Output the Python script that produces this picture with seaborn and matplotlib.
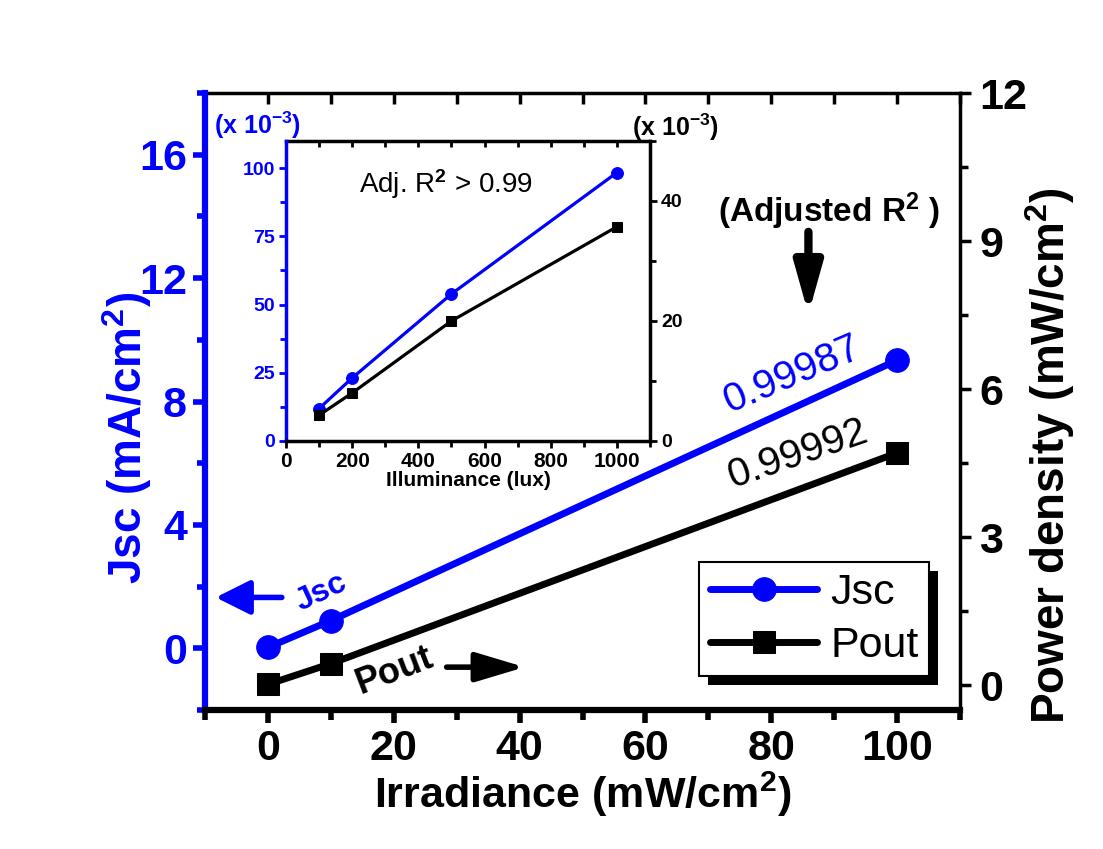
import matplotlib
matplotlib.use("Agg")
import matplotlib.pyplot as plt
import seaborn as sns
import pandas as pd
from matplotlib.ticker import MultipleLocator
from matplotlib.patches import Rectangle
from matplotlib.transforms import IdentityTransform

# ---------------- data ----------------
irradiance = [0, 10, 100]                 # mW/cm2
jsc_main = [0.03, 0.90, 9.34]             # mA/cm2
pout_main = [0.02, 0.44, 4.71]            # mW/cm2

illuminance = [100, 200, 500, 1000]       # lux
jsc_inset = [11.9, 23.1, 53.9, 98.4]      # x 1e-3 mA/cm2
pout_inset = [4.3, 8.0, 20.0, 35.7]       # x 1e-3 mW/cm2

r2_jsc = "0.99987"
r2_pout = "0.99992"

x_ticks = [0, 20, 40, 60, 80, 100]
jsc_ticks = [0, 4, 8, 12, 16]
pout_ticks = [0, 3, 6, 9, 12]
inset_x_ticks = [0, 200, 400, 600, 800, 1000]
inset_jsc_ticks = [0, 25, 50, 75, 100]
inset_pout_ticks = [0, 20, 40]

# ---------------- style ----------------
sns.set_style("ticks")
plt.rcParams['font.family'] = ['Liberation Sans', 'DejaVu Sans']
plt.rcParams['font.weight'] = 'bold'
plt.rcParams['text.color'] = 'black'
plt.rcParams['mathtext.fontset'] = 'custom'
plt.rcParams['mathtext.rm'] = 'Liberation Sans'
plt.rcParams['mathtext.bf'] = 'Liberation Sans:bold'
plt.rcParams['mathtext.it'] = 'Liberation Sans:italic'

BLUE = '#0000FF'
BLACK = '#000000'

fig = plt.figure(figsize=(11.03, 8.49), dpi=100)
fig.patch.set_facecolor('white')

# ---------------- main axes ----------------
ax = fig.add_axes([0.1859, 0.1637, 0.6845, 0.7267])
ax.set_facecolor('white')
ax2 = ax.twinx()

df_main = pd.DataFrame({'irr': irradiance, 'jsc': jsc_main, 'pout': pout_main})
sns.lineplot(data=df_main, x='irr', y='jsc', ax=ax, color=BLUE, lw=5,
             marker='o', ms=17, mec=BLUE, mfc=BLUE, errorbar=None, legend=False)
sns.lineplot(data=df_main, x='irr', y='pout', ax=ax2, color=BLACK, lw=5,
             marker='s', ms=16, mec=BLACK, mfc=BLACK, errorbar=None, legend=False)

ax.set_xlim(-10, 110)
ax.set_ylim(-2, 18)
ax2.set_ylim(-0.5, 12)
ax.set_xticks(x_ticks)
ax.xaxis.set_minor_locator(MultipleLocator(10))
ax.set_yticks(jsc_ticks)
ax.yaxis.set_minor_locator(MultipleLocator(2))
ax2.set_yticks(pout_ticks)
ax2.yaxis.set_minor_locator(MultipleLocator(1.5))
ax.set_xlabel('')
ax.set_ylabel('')
ax2.set_ylabel('')

for s in ['top', 'right']:
    ax.spines[s].set_visible(False)
for s in ['left', 'top', 'bottom']:
    ax2.spines[s].set_visible(False)
ax.spines['left'].set_color(BLUE)
ax.spines['left'].set_linewidth(4.5)
ax.spines['bottom'].set_color(BLACK)
ax.spines['bottom'].set_linewidth(4.5)
ax2.spines['right'].set_color(BLACK)
ax2.spines['right'].set_linewidth(2.5)

ax.tick_params(axis='x', which='major', direction='out', length=9, width=4,
               colors=BLACK, labelsize=31, pad=5)
ax.tick_params(axis='x', which='minor', direction='out', length=7, width=4, colors=BLACK)
ax.tick_params(axis='y', which='major', direction='out', length=9, width=4,
               colors=BLUE, labelsize=31, pad=4)
ax.tick_params(axis='y', which='minor', direction='out', length=6, width=4, colors=BLUE)
ax2.tick_params(axis='y', which='major', direction='out', length=8, width=2.5,
                colors=BLACK, labelsize=31, pad=6)
ax2.tick_params(axis='y', which='minor', direction='out', length=6, width=2.5, colors=BLACK)

# top spine with inward ticks
sec = ax.secondary_xaxis('top')
sec.set_xticks(x_ticks)
sec.xaxis.set_minor_locator(MultipleLocator(10))
sec.tick_params(axis='x', which='both', direction='in', length=8, width=2.5,
                labeltop=False, colors=BLACK)
sec.spines['top'].set_linewidth(2.5)
sec.spines['top'].set_color(BLACK)

# axis labels
fig.text(583 / 1103, 1 - 794 / 849, r'Irradiance (mW/cm$^{\mathbf{2}}$)', fontsize=31,
         fontweight='bold', ha='center', va='center', color=BLACK)
fig.text(127 / 1103, 1 - 438 / 849, r'Jsc (mA/cm$^{\mathbf{2}}$)', fontsize=33,
         fontweight='bold', ha='center', va='center', rotation=90, color=BLUE)
fig.text(1050 / 1103, 1 - 456 / 849, r'Power density (mW/cm$^{\mathbf{2}}$)', fontsize=33,
         fontweight='bold', ha='center', va='center', rotation=90, color=BLACK)

# annotations
ax.text(83.3, 8.89, r2_jsc, fontsize=29, fontweight='normal', color=BLUE,
        rotation=23, ha='center', va='center', rotation_mode='anchor')
ax.text(84.1, 6.30, r2_pout, fontsize=29, fontweight='normal', color=BLACK,
        rotation=19, ha='center', va='center', rotation_mode='anchor')
ax.text(89.2, 14.16, r'(Adjusted R$^{\mathbf{2}}$ )', fontsize=24, fontweight='bold',
        color=BLACK, ha='center', va='center')
ax.annotate('', xy=(85.9, 10.83), xytext=(85.9, 13.5),
            arrowprops=dict(arrowstyle='-|>,head_length=1.0,head_width=0.28', lw=6,
                            color=BLACK, mutation_scale=30, shrinkA=0, shrinkB=0))
ax.annotate('', xy=(-8.3, 1.65), xytext=(2.2, 1.65),
            arrowprops=dict(arrowstyle='-|>,head_length=0.7,head_width=0.35', lw=4,
                            color=BLUE, mutation_scale=30, shrinkA=0, shrinkB=0))
ax.text(8.45, 1.8, 'Jsc', fontsize=23, fontweight='bold', color=BLUE,
        rotation=25, ha='center', va='center', rotation_mode='anchor')
ax.annotate('', xy=(40.8, -0.61), xytext=(28.4, -0.61),
            arrowprops=dict(arrowstyle='-|>,head_length=1.0,head_width=0.3', lw=4,
                            color=BLACK, mutation_scale=30, shrinkA=0, shrinkB=0))
ax.text(20.2, -0.74, 'Pout', fontsize=26, fontweight='bold', color=BLACK,
        rotation=21, ha='center', va='center', rotation_mode='anchor')

# legend with hard black shadow
h1 = ax.get_lines()[0]
h2 = ax2.get_lines()[0]
leg = fig.legend([h1, h2], ['Jsc', 'Pout'], loc='upper left',
                 bbox_to_anchor=(699 / 1103, 1 - 562 / 849), borderaxespad=0,
                 prop={'size': 31, 'weight': 'normal'}, frameon=True, fancybox=False,
                 framealpha=1, edgecolor=BLACK, handlelength=2.5, handletextpad=0.3,
                 labelspacing=0.3, borderpad=0.25, markerscale=1.0, labelcolor=BLACK)
leg.get_frame().set_linewidth(1.5)
leg.set_zorder(20)

# ---------------- inset ----------------
ins = fig.add_axes([0.2593, 0.4806, 0.3300, 0.3534])
ins.set_zorder(10)
ins.set_facecolor('white')
ins2 = ins.twinx()
ins2.set_zorder(11)

df_ins = pd.DataFrame({'lux': illuminance, 'jsc': jsc_inset, 'pout': pout_inset})
sns.lineplot(data=df_ins, x='lux', y='jsc', ax=ins, color=BLUE, lw=2.3,
             marker='o', ms=8.5, mec=BLUE, mfc=BLUE, errorbar=None, legend=False)
sns.lineplot(data=df_ins, x='lux', y='pout', ax=ins2, color=BLACK, lw=2.3,
             marker='s', ms=7.5, mec=BLACK, mfc=BLACK, errorbar=None, legend=False)

ins.set_xlim(0, 1100)
ins.set_ylim(0, 110)
ins2.set_ylim(0, 50)
ins.set_xticks(inset_x_ticks)
ins.xaxis.set_minor_locator(MultipleLocator(100))
ins.set_yticks(inset_jsc_ticks)
ins.yaxis.set_minor_locator(MultipleLocator(12.5))
ins2.set_yticks(inset_pout_ticks)
ins2.yaxis.set_minor_locator(MultipleLocator(10))
ins.set_xlabel('')
ins.set_ylabel('')
ins2.set_ylabel('')

for s in ['top', 'right']:
    ins.spines[s].set_visible(False)
for s in ['left', 'top', 'bottom']:
    ins2.spines[s].set_visible(False)
ins.spines['left'].set_color(BLUE)
ins.spines['left'].set_linewidth(2.5)
ins.spines['bottom'].set_color(BLACK)
ins.spines['bottom'].set_linewidth(2.5)
ins2.spines['right'].set_color(BLACK)
ins2.spines['right'].set_linewidth(2.5)

ins.tick_params(axis='x', which='major', direction='out', length=5, width=2,
                colors=BLACK, labelsize=15, pad=3)
ins.tick_params(axis='x', which='minor', direction='out', length=4, width=2, colors=BLACK)
ins.tick_params(axis='y', which='major', direction='out', length=5, width=2,
                colors=BLUE, labelsize=14, pad=3)
ins.tick_params(axis='y', which='minor', direction='out', length=4, width=2, colors=BLUE)
ins2.tick_params(axis='y', which='major', direction='out', length=5, width=2,
                 colors=BLACK, labelsize=14, pad=3)
ins2.tick_params(axis='y', which='minor', direction='out', length=4, width=2, colors=BLACK)

isec = ins.secondary_xaxis('top')
isec.set_xticks(inset_x_ticks)
isec.xaxis.set_minor_locator(MultipleLocator(100))
isec.tick_params(axis='x', which='both', direction='in', length=4, width=2,
                 labeltop=False, colors=BLACK)
isec.spines['top'].set_linewidth(2.5)
isec.spines['top'].set_color(BLACK)

fig.text(468 / 1103, 1 - 480 / 849, 'Illuminance (lux)', fontsize=15,
         fontweight='bold', ha='center', va='center', color=BLACK, zorder=30)
fig.text(258 / 1103, 1 - 125 / 849, r'(x 10$^{\mathbf{-3}}$)', fontsize=18,
         fontweight='bold', ha='center', va='center', color=BLUE, zorder=30)
fig.text(676 / 1103, 1 - 127 / 849, r'(x 10$^{\mathbf{-3}}$)', fontsize=18,
         fontweight='bold', ha='center', va='center', color=BLACK, zorder=30)
ins.text(0.44, 0.855, r'Adj. R$^{\mathrm{2}}$ > 0.99', transform=ins.transAxes,
         fontsize=20, fontweight='normal', ha='center', va='center', color=BLACK)

# shadow behind legend
fig.canvas.draw()
bb = leg.get_window_extent(fig.canvas.get_renderer())
shadow = Rectangle((bb.x0 + 9, bb.y0 - 9), bb.width, bb.height,
                   transform=IdentityTransform(), facecolor=BLACK, edgecolor='none',
                   zorder=19)
fig.add_artist(shadow)

fig.savefig('out.png', dpi=100, facecolor='white')
